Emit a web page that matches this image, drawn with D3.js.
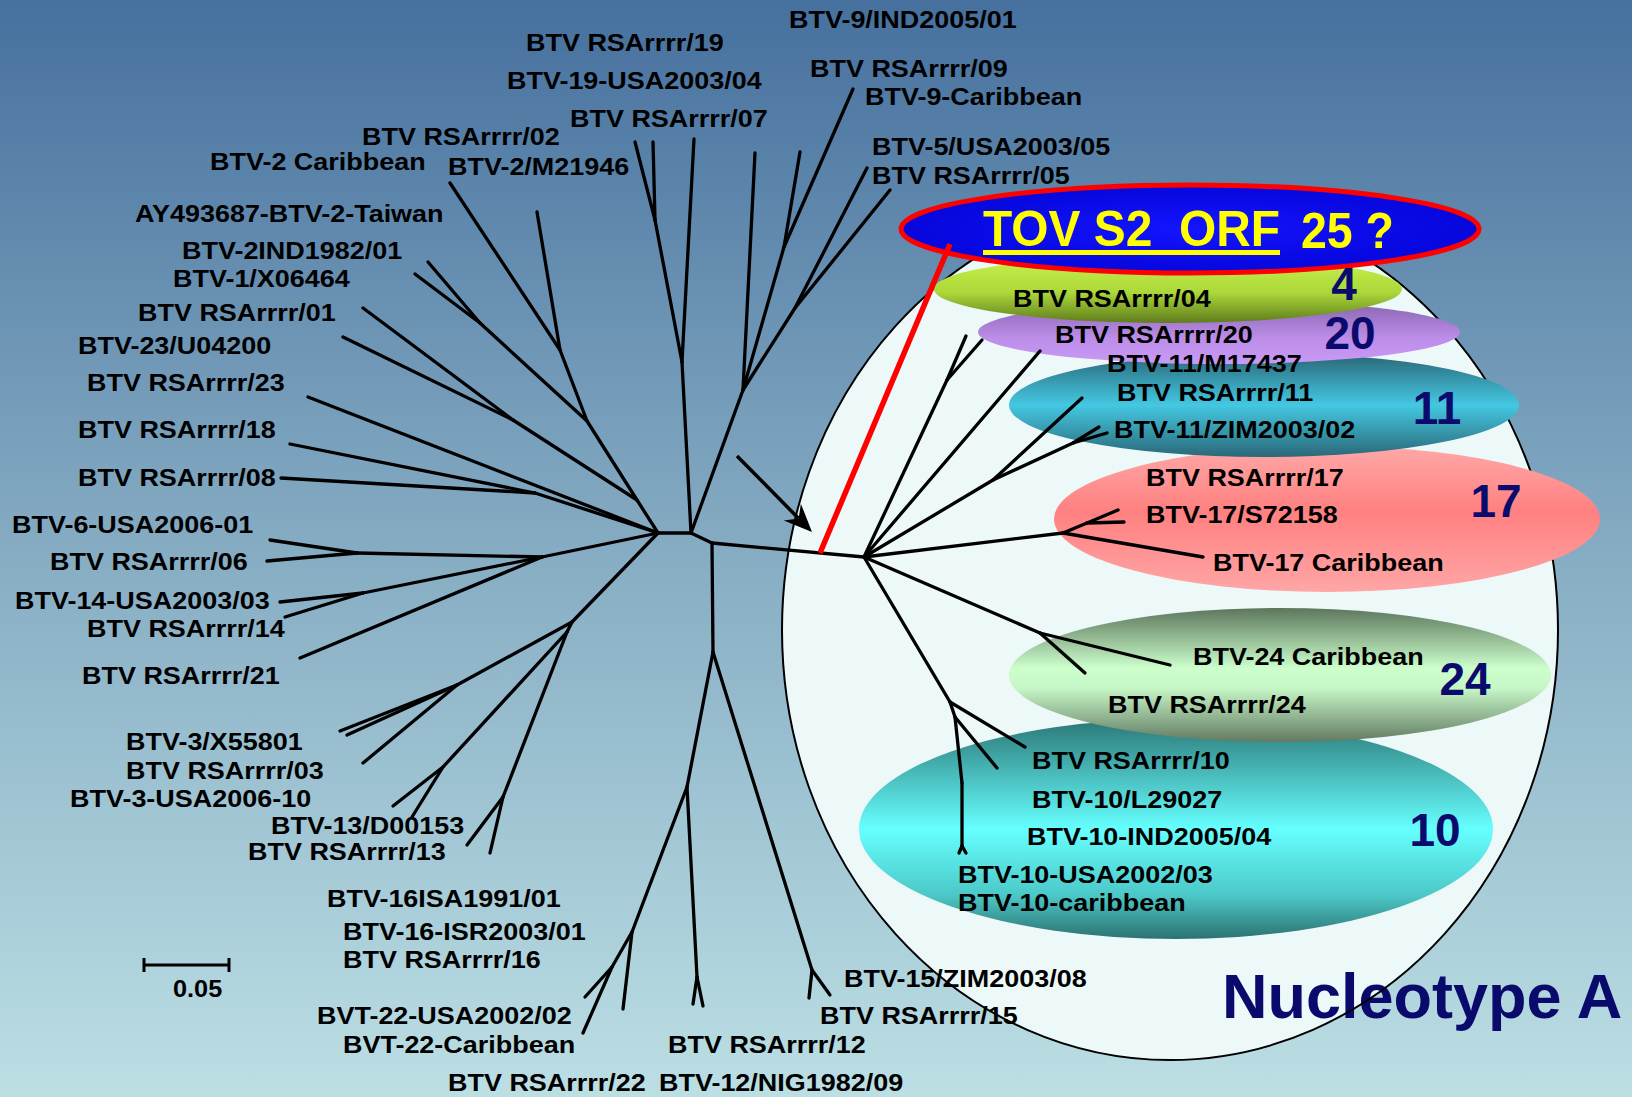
<!DOCTYPE html>
<html>
<head>
<meta charset="utf-8">
<script src="https://cdn.jsdelivr.net/npm/d3@7"></script>
<style>
html, body { margin: 0; padding: 0; overflow: hidden; }
text { font-family: "Liberation Sans", Arial, sans-serif; font-weight: bold; }
</style>
</head>
<body>
<script>
var W = 1632, H = 1097;

// tree nodes : [id, parent, x, y] (layout frame 1632 x 1097)
var treeNodes = [
  ["H1", null, 658, 533], ["H2", "H1", 691, 533], ["H3", "H2", 712, 543],
  ["Na", "H2", 682, 362], ["Nc", "Na", 655, 220], ["l19a", "Nc", 635, 142], ["l19b", "Nc", 653, 142],
  ["l07", "Na", 694, 139],
  ["Nb", "H2", 743, 390], ["l9c", "Nb", 755, 153], ["N9", "Nb", 784, 247], ["l9a", "N9", 800, 152],
  ["l9b", "N9", 853, 89], ["N5", "Nb", 795, 308], ["l5a", "N5", 867, 168], ["l5b", "N5", 890, 190],
  ["J", "H1", 637, 500], ["P2", "J", 587, 421], ["P1", "P2", 560, 350], ["l2a", "P1", 450, 183],
  ["l2b", "P1", 537, 212], ["P3", "P2", 480, 323], ["l2c", "P3", 428, 262], ["l1", "P3", 415, 274],
  ["Q1", "J", 513, 420], ["l01", "Q1", 363, 308], ["l23u", "Q1", 343, 337],
  ["l23", "H1", 308, 397], ["Q2", "H1", 535, 493], ["l18", "Q2", 290, 444], ["l08", "Q2", 281, 478],
  ["G1", "H1", 542, 557], ["G6", "G1", 357, 553], ["l6a", "G6", 270, 540], ["l6b", "G6", 267, 561],
  ["G14", "G1", 363, 593], ["l14a", "G14", 280, 602], ["l14b", "G14", 285, 617], ["l21", "G1", 300, 658],
  ["K1", "H1", 572, 622], ["G3", "K1", 457, 685], ["l3a", "G3", 340, 731], ["l3t", "G3", 347, 735],
  ["l3b", "G3", 363, 763], ["K2", "K1", 567, 632], ["G13a", "K2", 443, 767], ["l13a", "G13a", 393, 806],
  ["l13b", "G13a", 412, 817], ["G13b", "K2", 503, 797], ["l13c", "G13b", 467, 845], ["l13d", "G13b", 490, 853],
  ["V1", "H3", 713, 652], ["V2", "V1", 687, 787], ["V12", "V2", 697, 977], ["l12a", "V12", 693, 1004],
  ["l12b", "V12", 703, 1006], ["V4", "V2", 632, 932], ["l16a", "V4", 623, 1009], ["V5", "V4", 612, 967],
  ["l22a", "V5", 585, 997], ["l22b", "V5", 583, 1033], ["V3", "V1", 812, 970], ["l15a", "V3", 809, 998],
  ["l15b", "V3", 830, 995],
  ["D", "H3", 864, 557], ["E1", "D", 947, 380], ["l4a", "E1", 966, 336], ["l4b", "E1", 982, 340],
  ["l20", "D", 1040, 351], ["E11", "D", 993, 480], ["l11a", "E11", 1082, 398], ["E11b", "E11", 1073, 443],
  ["l11b", "E11b", 1099, 427], ["l11c", "E11b", 1107, 433], ["E17", "D", 1063, 533], ["E17b", "E17", 1087, 523],
  ["l17a", "E17b", 1118, 510], ["l17b", "E17b", 1124, 522], ["l17c", "E17", 1203, 557],
  ["E24", "D", 1040, 633], ["l24a", "E24", 1085, 673], ["l24b", "E24", 1170, 665],
  ["E10", "D", 950, 702], ["l10a", "E10", 1025, 747], ["E10b", "E10", 955, 717], ["l10b", "E10b", 997, 768],
  ["E10d", "E10b", 962, 783], ["E10e", "E10d", 962, 846], ["l10c", "E10e", 959, 853], ["l10d", "E10e", 966, 853]
];

// isolate names outside the nucleotype A clades : [name, x, baseline]
var outerLabels = [
  ["BTV-9/IND2005/01", 789, 28], ["BTV RSArrrr/19", 526, 51], ["BTV RSArrrr/09", 810, 77],
  ["BTV-19-USA2003/04", 507, 89], ["BTV-9-Caribbean", 865, 105], ["BTV RSArrrr/07", 570, 127],
  ["BTV RSArrrr/02", 362, 145], ["BTV-5/USA2003/05", 872, 155], ["BTV-2 Caribbean", 210, 170],
  ["BTV-2/M21946", 448, 175], ["BTV RSArrrr/05", 872, 184], ["AY493687-BTV-2-Taiwan", 135, 222],
  ["BTV-2IND1982/01", 182, 259], ["BTV-1/X06464", 173, 287], ["BTV RSArrrr/01", 138, 321],
  ["BTV-23/U04200", 78, 354], ["BTV RSArrrr/23", 87, 391], ["BTV RSArrrr/18", 78, 438],
  ["BTV RSArrrr/08", 78, 486], ["BTV-6-USA2006-01", 12, 533], ["BTV RSArrrr/06", 50, 570],
  ["BTV-14-USA2003/03", 15, 609], ["BTV RSArrrr/14", 87, 637], ["BTV RSArrrr/21", 82, 684],
  ["BTV-3/X55801", 126, 750], ["BTV RSArrrr/03", 126, 779], ["BTV-3-USA2006-10", 70, 807],
  ["BTV-13/D00153", 271, 834], ["BTV RSArrrr/13", 248, 860], ["BTV-16ISA1991/01", 327, 907],
  ["BTV-16-ISR2003/01", 343, 940], ["BTV RSArrrr/16", 343, 968], ["BVT-22-USA2002/02", 317, 1024],
  ["BVT-22-Caribbean", 343, 1053], ["BTV RSArrrr/22", 448, 1091], ["BTV RSArrrr/12", 668, 1053],
  ["BTV-12/NIG1982/09", 659, 1091], ["BTV-15/ZIM2003/08", 844, 987], ["BTV RSArrrr/15", 820, 1024]
];

// nucleotype A serotypes, drawn from the lowest to the highest
var serotypes = ["10", "24", "17", "11", "20", "4"];
var cladeLabels = {
  "4": [["BTV RSArrrr/04", 1013, 307]],
  "20": [["BTV RSArrrr/20", 1055, 343]],
  "11": [["BTV-11/M17437", 1107, 372], ["BTV RSArrrr/11", 1117, 401], ["BTV-11/ZIM2003/02", 1114, 438]],
  "17": [["BTV RSArrrr/17", 1146, 486], ["BTV-17/S72158", 1146, 523], ["BTV-17 Caribbean", 1213, 571]],
  "24": [["BTV-24 Caribbean", 1193, 665], ["BTV RSArrrr/24", 1108, 713]],
  "10": [["BTV RSArrrr/10", 1032, 769], ["BTV-10/L29027", 1032, 808], ["BTV-10-IND2005/04", 1027, 845],
         ["BTV-10-USA2002/03", 958, 883], ["BTV-10-caribbean", 958, 911]]
};
var scaleBarValue = 0.05;

// ---- layout (positions, sizes, colours) ----
var cladeShape = {
  "4":  { cx: 1168, cy: 289, rx: 234, ry: 34, nx: 1344, ny: 300 },
  "20": { cx: 1219, cy: 332, rx: 241, ry: 32, nx: 1350, ny: 349 },
  "11": { cx: 1264, cy: 405, rx: 255, ry: 52, nx: 1437, ny: 424 },
  "17": { cx: 1327, cy: 519, rx: 273, ry: 73, nx: 1496, ny: 517 },
  "24": { cx: 1280, cy: 675, rx: 271, ry: 67, nx: 1465, ny: 695 },
  "10": { cx: 1176, cy: 829, rx: 317, ry: 110, nx: 1435, ny: 846 }
};
var cladeColors = {
  "4":  [[0, "#c8f24c"], [0.55, "#acd83a"], [1, "#5f7c1c"]],
  "20": [[0, "#8662ac"], [0.6, "#bc8ee8"], [1, "#c99af6"]],
  "11": [[0, "#2a6474"], [0.5, "#44c8e2"], [1, "#2a6878"]],
  "17": [[0, "#ffa8a8"], [0.45, "#ff8080"], [1, "#ffa6a6"]],
  "24": [[0, "#5d765d"], [0.45, "#ccffcc"], [0.6, "#c6f6c6"], [1, "#627a62"]],
  "10": [[0, "#2c7676"], [0.5, "#66ffff"], [0.8, "#4cc8c8"], [1, "#2c7272"]]
};
var labelSize = 24.5, labelStretch = 1.1;

var x = d3.scaleLinear().domain([0, 1632]).range([0, W]);
var y = d3.scaleLinear().domain([0, 1097]).range([0, H]);
var bar = d3.scaleLinear().domain([0, scaleBarValue]).range([144, 229]);

var svg = d3.select("body").append("svg").attr("width", W).attr("height", H);
var defs = svg.append("defs");

function vgrad(id, stops) {
  var g = defs.append("linearGradient").attr("id", id)
    .attr("x1", 0).attr("y1", 0).attr("x2", 0).attr("y2", 1);
  stops.forEach(function (s) { g.append("stop").attr("offset", s[0]).attr("stop-color", s[1]); });
}
vgrad("bg", [[0, "#46709e"], [0.5, "#86acc3"], [1, "#bcdfe4"]]);
serotypes.forEach(function (s) { vgrad("g" + s, cladeColors[s]); });
var tg = defs.append("radialGradient").attr("id", "tov");
tg.append("stop").attr("offset", 0).attr("stop-color", "#1414ff");
tg.append("stop").attr("offset", 1).attr("stop-color", "#0606dc");

// background
svg.append("rect").attr("width", W).attr("height", H).attr("fill", "url(#bg)");

// nucleotype A envelope
var big = { cx: 1170, cy: 630, rx: 388, ry: 430 };
svg.append("ellipse").attr("cx", x(big.cx)).attr("cy", y(big.cy))
  .attr("rx", big.rx).attr("ry", big.ry).attr("fill", "#edf8f8");

function addLabel(g, d, fs, sx) {
  g.append("text")
    .attr("transform", "translate(" + x(d[1]) + "," + y(d[2]) + ") scale(" + sx + ",1)")
    .attr("font-size", fs).attr("fill", "#000").text(d[0]);
}

var outerG = svg.append("g");
outerLabels.forEach(function (d) { addLabel(outerG, d, labelSize, labelStretch); });

svg.append("text").attr("x", x(1222)).attr("y", y(1018))
  .attr("font-size", 63).attr("fill", "#0a0a6c").text("Nucleotype A");

svg.append("ellipse").attr("cx", x(big.cx)).attr("cy", y(big.cy))
  .attr("rx", big.rx).attr("ry", big.ry).attr("fill", "none")
  .attr("stroke", "#000").attr("stroke-width", 2);

// serotype ellipses
serotypes.forEach(function (s) {
  var c = cladeShape[s];
  svg.append("ellipse").attr("cx", x(c.cx)).attr("cy", y(c.cy))
    .attr("rx", c.rx).attr("ry", c.ry).attr("fill", "url(#g" + s + ")");
});

// TOV ellipse
svg.append("ellipse").attr("cx", x(1190)).attr("cy", y(229)).attr("rx", 289).attr("ry", 44)
  .attr("fill", "url(#tov)").attr("stroke", "#ff0000").attr("stroke-width", 5);

// tree branches
var root = d3.stratify().id(function (d) { return d[0]; }).parentId(function (d) { return d[1]; })(treeNodes);
svg.append("g").selectAll("line").data(root.links()).enter().append("line")
  .attr("x1", function (l) { return x(l.source.data[2]); })
  .attr("y1", function (l) { return y(l.source.data[3]); })
  .attr("x2", function (l) { return x(l.target.data[2]); })
  .attr("y2", function (l) { return y(l.target.data[3]); })
  .attr("stroke", "#000").attr("stroke-width", 3.3).attr("stroke-linecap", "round");

// red link to TOV
svg.append("line").attr("x1", x(820)).attr("y1", y(553)).attr("x2", x(950)).attr("y2", y(244))
  .attr("stroke", "#ff0000").attr("stroke-width", 5.5);

// arrow
(function () {
  var x0 = x(737), y0 = y(456), x1 = x(812), y1 = y(532);
  var dx = x1 - x0, dy = y1 - y0, len = Math.sqrt(dx * dx + dy * dy);
  var ux = dx / len, uy = dy / len, nx = -uy, ny = ux;
  var L = 28, Wd = 12, N = 19;
  svg.append("line").attr("x1", x0).attr("y1", y0)
    .attr("x2", x1 - ux * N).attr("y2", y1 - uy * N)
    .attr("stroke", "#000").attr("stroke-width", 3.5);
  var pts = [[x1, y1], [x1 - ux * L + nx * Wd, y1 - uy * L + ny * Wd],
             [x1 - ux * N, y1 - uy * N], [x1 - ux * L - nx * Wd, y1 - uy * L - ny * Wd]];
  svg.append("path").attr("d", "M" + pts.map(function (p) { return p.join(","); }).join("L") + "Z")
    .attr("fill", "#000");
})();

// clade labels and serotype numbers
var innerG = svg.append("g");
serotypes.forEach(function (s) {
  cladeLabels[s].forEach(function (d) { addLabel(innerG, d, labelSize, labelStretch); });
  var c = cladeShape[s];
  innerG.append("text").attr("x", x(c.nx)).attr("y", y(c.ny)).attr("text-anchor", "middle")
    .attr("font-size", 46).attr("fill", "#0b0b6e").text(s);
});

// TOV title
svg.append("text").attr("transform", "translate(" + x(983) + "," + y(246) + ") scale(1,1.08)")
  .attr("font-size", 47).attr("fill", "#ffff00").style("white-space", "pre")
  .attr("textLength", 297).attr("lengthAdjust", "spacingAndGlyphs").text("TOV S2  ORF");
svg.append("rect").attr("x", x(983)).attr("y", y(250)).attr("width", 297).attr("height", 5).attr("fill", "#ffff00");
svg.append("text").attr("transform", "translate(" + x(1301) + "," + y(248) + ") scale(1,1.08)")
  .attr("font-size", 47).attr("fill", "#ffff00").style("white-space", "pre")
  .attr("textLength", 93).attr("lengthAdjust", "spacingAndGlyphs").text("25 ?");

// scale bar
var sb = svg.append("g").attr("stroke", "#000").attr("stroke-width", 3);
sb.append("line").attr("x1", bar(0)).attr("x2", bar(scaleBarValue)).attr("y1", y(965)).attr("y2", y(965));
[0, scaleBarValue].forEach(function (v) {
  sb.append("line").attr("x1", bar(v)).attr("x2", bar(v)).attr("y1", y(958)).attr("y2", y(972));
});
svg.append("text").attr("transform", "translate(" + x(173) + "," + y(997) + ") scale(1.1,1)")
  .attr("font-size", 23).text(scaleBarValue.toFixed(2));
</script>
</body>
</html>
